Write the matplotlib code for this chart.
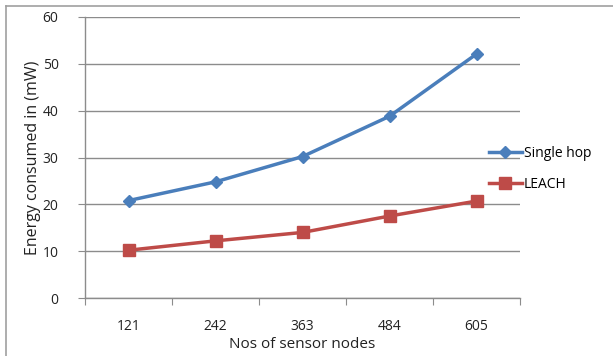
import matplotlib.pyplot as plt
from matplotlib.lines import Line2D

plt.rcParams['font.family'] = ['Open Sans', 'DejaVu Sans']

nodes = ['121', '242', '363', '484', '605']
single_hop = [20.8, 24.8, 30.2, 38.8, 52.1]
leach = [10.2, 12.2, 14.0, 17.5, 20.7]

blue = '#4a7ebb'
red = '#be4b48'
grid = '#8c8c8c'

fig = plt.figure(figsize=(6.13, 3.56), dpi=100)
ax = fig.add_axes([85 / 613, 1 - 298 / 356, 435 / 613, 281 / 356])

# outer chart frame (top and left only visible)
fig.add_artist(Line2D([6 / 613, 6 / 613], [0, 1 - 6 / 356], color='#a0a0a0', lw=1.2))
fig.add_artist(Line2D([6 / 613, 1], [1 - 6 / 356, 1 - 6 / 356], color='#a0a0a0', lw=1.2))

x = range(len(nodes))
ax.plot(x, single_hop, color=blue, lw=2.5, marker='D', ms=6, label='Single hop', zorder=3)
ax.plot(x, leach, color=red, lw=2.5, marker='s', ms=9, label='LEACH', zorder=3)

ax.set_xlim(-0.5, 4.5)
ax.set_ylim(0, 60)
ax.set_yticks(range(0, 61, 10))
ax.set_xticks([i - 0.5 for i in range(6)])
ax.set_xticks(list(x), minor=True)
ax.set_xticklabels([])
ax.set_xticklabels(nodes, minor=True)
ax.tick_params(axis='x', which='major', length=5, color=grid, direction='out')
ax.tick_params(axis='x', which='minor', length=0, pad=15, labelsize=10, labelcolor='#222222')
ax.tick_params(axis='y', length=5, color=grid, pad=14, labelsize=10, labelcolor='#222222')

ax.yaxis.grid(True, color=grid, lw=1)
ax.set_axisbelow(True)
for s in ['top', 'right']:
    ax.spines[s].set_visible(False)
for s in ['left', 'bottom']:
    ax.spines[s].set_color(grid)
    ax.spines[s].set_linewidth(1)

ax.set_xlabel('Nos of sensor nodes', fontsize=11, color='#222222')
ax.xaxis.set_label_coords(0.5, -(344 - 298) / 281, transform=ax.transAxes)
ax.xaxis.label.set_va('center')
ax.set_ylabel('Energy consumed in (mW)', fontsize=11.5, color='#222222')
ax.yaxis.set_label_coords(-(85 - 33) / 435, 0.5)
ax.yaxis.label.set_va('center')

ax.legend(loc='upper left', bbox_to_anchor=(0.915, 0.56), frameon=False,
          fontsize=10, handlelength=2.4, handletextpad=0.15, labelspacing=1.15,
          borderaxespad=0)

fig.savefig('out.png', dpi=100)
